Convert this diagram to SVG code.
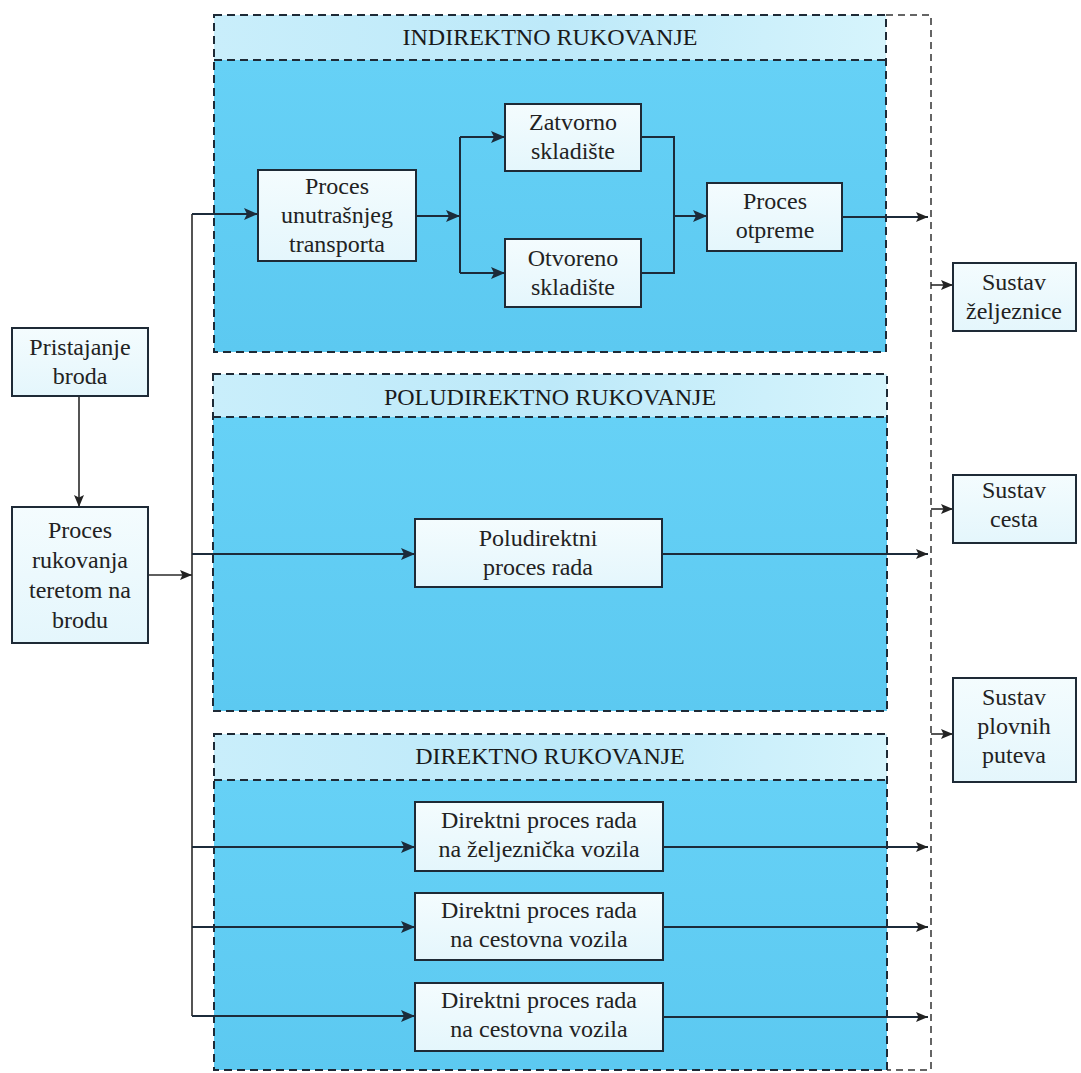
<svg xmlns="http://www.w3.org/2000/svg" width="1081" height="1073" viewBox="0 0 1081 1073">
  <defs>
    <linearGradient id="hdr" x1="0" y1="0" x2="1" y2="0">
      <stop offset="0" stop-color="#c9eefb"/>
      <stop offset="0.5" stop-color="#bde9f9"/>
      <stop offset="1" stop-color="#d6f4fc"/>
    </linearGradient>
    <linearGradient id="body" x1="0" y1="0" x2="0" y2="1">
      <stop offset="0" stop-color="#66d1f6"/>
      <stop offset="1" stop-color="#5cc9f1"/>
    </linearGradient>
    <linearGradient id="boxfill" x1="0" y1="0" x2="0" y2="1">
      <stop offset="0" stop-color="#f4fcfe"/>
      <stop offset="1" stop-color="#e4f6fc"/>
    </linearGradient>
    <marker id="arr" viewBox="0 0 14 12" refX="14" refY="6" markerWidth="14" markerHeight="12" markerUnits="userSpaceOnUse" orient="auto">
      <path d="M0,0 L14,6 L0,12 L3,6 z" fill="#1c2b3a"/>
    </marker>
    <marker id="arr-s" viewBox="0 0 12 10" refX="12" refY="5" markerWidth="12" markerHeight="10" markerUnits="userSpaceOnUse" orient="auto">
      <path d="M0,0 L12,5 L0,10 L2.5,5 z" fill="#222"/>
    </marker>
  </defs>
  <style>
    .hdr { fill: url(#hdr); }
    .body { fill: url(#body); }
    .dash { fill: none; stroke: #1e2a36; stroke-width: 2; stroke-dasharray: 8 5; }
    .frame { fill: none; stroke: #333; stroke-width: 1.5; stroke-dasharray: 7 5; }
    .box { fill: url(#boxfill); stroke: #1e2a36; stroke-width: 2; }
    text { font-family: 'Liberation Serif', Tinos, 'Times New Roman', 'DejaVu Serif', serif; font-size: 24px; fill: #222; text-anchor: middle; }
    .h { fill: #1a1a1a; }
    .ln { fill: none; stroke: #1c2b3a; stroke-width: 2; }
    .lo { fill: none; stroke: #2a2a2a; stroke-width: 1.6; }
  </style>

  <rect width="1081" height="1073" fill="#ffffff"/>

  <!-- handling sections -->
  <g id="section-indirektno">
    <rect class="hdr" x="214" y="15" width="672" height="45"/>
    <rect class="body" x="214" y="60" width="672" height="292"/>
    <rect class="dash" x="214" y="15" width="672" height="337"/>
    <line class="dash" x1="214" y1="60" x2="886" y2="60"/>
    <text class="h" x="550" y="45">INDIREKTNO RUKOVANJE</text>
  </g>
  <g id="section-poludirektno">
    <rect class="hdr" x="213" y="374" width="674" height="43"/>
    <rect class="body" x="213" y="417" width="674" height="294"/>
    <rect class="dash" x="213" y="374" width="674" height="337"/>
    <line class="dash" x1="213" y1="417" x2="887" y2="417"/>
    <text class="h" x="550" y="405">POLUDIREKTNO RUKOVANJE</text>
  </g>
  <g id="section-direktno">
    <rect class="hdr" x="214" y="734" width="673" height="46"/>
    <rect class="body" x="214" y="780" width="673" height="290"/>
    <rect class="dash" x="214" y="734" width="673" height="336"/>
    <line class="dash" x1="214" y1="780" x2="887" y2="780"/>
    <text class="h" x="550" y="764">DIREKTNO RUKOVANJE</text>
  </g>

  <!-- outer frame on the right -->
  <path id="frame" class="frame" d="M886,15 H931 V1070 H887"/>

  <!-- connectors -->
  <g id="connectors">
    <path class="lo" d="M79,396 V507" marker-end="url(#arr-s)"/>
    <path class="lo" d="M148,575 H192" marker-end="url(#arr-s)"/>
    <path class="lo" d="M192,214 V1016"/>
    <path class="ln" d="M192,214 H258" marker-end="url(#arr)"/>
    <path class="ln" d="M192,554 H415" marker-end="url(#arr)"/>
    <path class="ln" d="M192,847 H415" marker-end="url(#arr)"/>
    <path class="ln" d="M192,927 H415" marker-end="url(#arr)"/>
    <path class="ln" d="M192,1016 H415" marker-end="url(#arr)"/>

    <path class="ln" d="M416,216 H460" marker-end="url(#arr)"/>
    <path class="ln" d="M460,137 V273"/>
    <path class="ln" d="M460,137 H505" marker-end="url(#arr)"/>
    <path class="ln" d="M460,273 H505" marker-end="url(#arr)"/>
    <path class="ln" d="M641,137 H674 V273 H641"/>
    <path class="ln" d="M674,216 H707" marker-end="url(#arr)"/>

    <path class="ln" d="M842,217 H928" marker-end="url(#arr-s)"/>
    <path class="ln" d="M662,554 H928" marker-end="url(#arr-s)"/>
    <path class="ln" d="M663,847 H928" marker-end="url(#arr-s)"/>
    <path class="ln" d="M663,927 H928" marker-end="url(#arr-s)"/>
    <path class="ln" d="M663,1017 H928" marker-end="url(#arr-s)"/>

    <path class="lo" d="M931,285 H953" marker-end="url(#arr-s)"/>
    <path class="lo" d="M931,509 H953" marker-end="url(#arr-s)"/>
    <path class="lo" d="M931,734 H953" marker-end="url(#arr-s)"/>
  </g>

  <!-- nodes -->
  <g id="pristajanje-broda">
    <rect class="box" x="12" y="328" width="136" height="68"/>
    <text x="80" y="355">Pristajanje</text>
    <text x="80" y="384">broda</text>
  </g>
  <g id="rukovanje-na-brodu">
    <rect class="box" x="12" y="507" width="136" height="136"/>
    <text x="80" y="538">Proces</text>
    <text x="80" y="568">rukovanja</text>
    <text x="80" y="598">teretom na</text>
    <text x="80" y="628">brodu</text>
  </g>
  <g id="unutrasnji-transport">
    <rect class="box" x="258" y="170" width="158" height="91"/>
    <text x="337" y="194">Proces</text>
    <text x="337" y="223">unutrašnjeg</text>
    <text x="337" y="252">transporta</text>
  </g>
  <g id="zatvorno-skladiste">
    <rect class="box" x="505" y="104" width="136" height="67"/>
    <text x="573" y="130">Zatvorno</text>
    <text x="573" y="159">skladište</text>
  </g>
  <g id="otvoreno-skladiste">
    <rect class="box" x="505" y="239" width="136" height="68"/>
    <text x="573" y="266">Otvoreno</text>
    <text x="573" y="295">skladište</text>
  </g>
  <g id="proces-otpreme">
    <rect class="box" x="707" y="183" width="135" height="68"/>
    <text x="775" y="209">Proces</text>
    <text x="775" y="238">otpreme</text>
  </g>
  <g id="poludirektni-proces">
    <rect class="box" x="415" y="519" width="247" height="68"/>
    <text x="538" y="546">Poludirektni</text>
    <text x="538" y="575">proces rada</text>
  </g>
  <g id="direktni-zeljeznicka">
    <rect class="box" x="415" y="802" width="248" height="69"/>
    <text x="539" y="828">Direktni proces rada</text>
    <text x="539" y="857">na željeznička vozila</text>
  </g>
  <g id="direktni-cestovna-1">
    <rect class="box" x="415" y="893" width="248" height="67"/>
    <text x="539" y="918">Direktni proces rada</text>
    <text x="539" y="947">na cestovna vozila</text>
  </g>
  <g id="direktni-cestovna-2">
    <rect class="box" x="415" y="983" width="248" height="68"/>
    <text x="539" y="1008">Direktni proces rada</text>
    <text x="539" y="1037">na cestovna vozila</text>
  </g>
  <g id="sustav-zeljeznice">
    <rect class="box" x="953" y="263" width="123" height="68"/>
    <text x="1014" y="290">Sustav</text>
    <text x="1014" y="319">željeznice</text>
  </g>
  <g id="sustav-cesta">
    <rect class="box" x="953" y="475" width="123" height="68"/>
    <text x="1014" y="498">Sustav</text>
    <text x="1014" y="527">cesta</text>
  </g>
  <g id="sustav-plovnih-puteva">
    <rect class="box" x="953" y="678" width="123" height="104"/>
    <text x="1014" y="705">Sustav</text>
    <text x="1014" y="734">plovnih</text>
    <text x="1014" y="763">puteva</text>
  </g>
</svg>
